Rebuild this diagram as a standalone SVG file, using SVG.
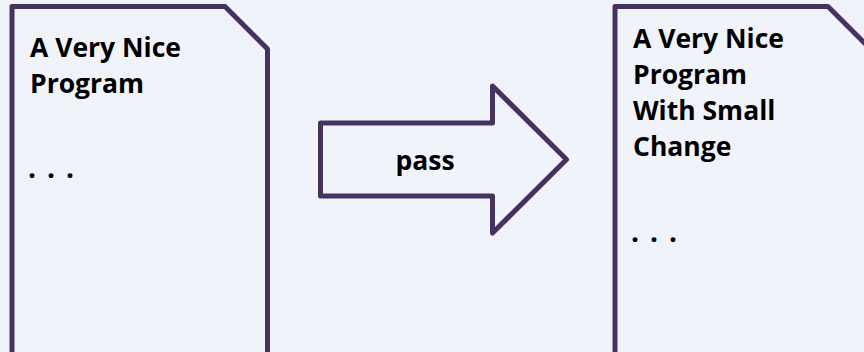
<svg xmlns="http://www.w3.org/2000/svg" width="864" height="352" viewBox="0 0 864 352">
<style>
.doc{fill:#F0F3FA;stroke:#46325F;stroke-width:5;stroke-linejoin:round}
.t{font-family:"Open Sans","Liberation Sans",sans-serif;font-weight:700;font-size:26.5px;fill:#000}
.d{font-family:"Open Sans","Liberation Sans",sans-serif;font-weight:700;font-size:28px;fill:#000;letter-spacing:11px}
</style>
<rect width="864" height="352" fill="#F0F3FA"/>
<g id="doc1">
<path class="doc" d="M12,360 L12,6.5 L225,6.5 L267.5,49 L267.5,360"/>
<text class="t" x="30" y="57">A Very Nice</text>
<text class="t" x="30" y="93">Program</text>
<text class="d" x="28" y="178">...</text>
</g>
<g id="connectors">
<g id="pass-arrow">
<path class="doc" d="M320.5,123 L492.5,123 L492.5,86 L566.5,159.5 L492.5,233 L492.5,196 L320.5,196 Z"/>
<text class="t" x="425" y="170" text-anchor="middle">pass</text>
</g>
</g>
<g id="doc2">
<path class="doc" d="M615,360 L615,6.5 L828,6.5 L870.5,49 L870.5,360"/>
<text class="t" x="633" y="48">A Very Nice</text>
<text class="t" x="633" y="84">Program</text>
<text class="t" x="633" y="120">With Small</text>
<text class="t" x="633" y="156">Change</text>
<text class="d" x="631" y="242">...</text>
</g>
</svg>
